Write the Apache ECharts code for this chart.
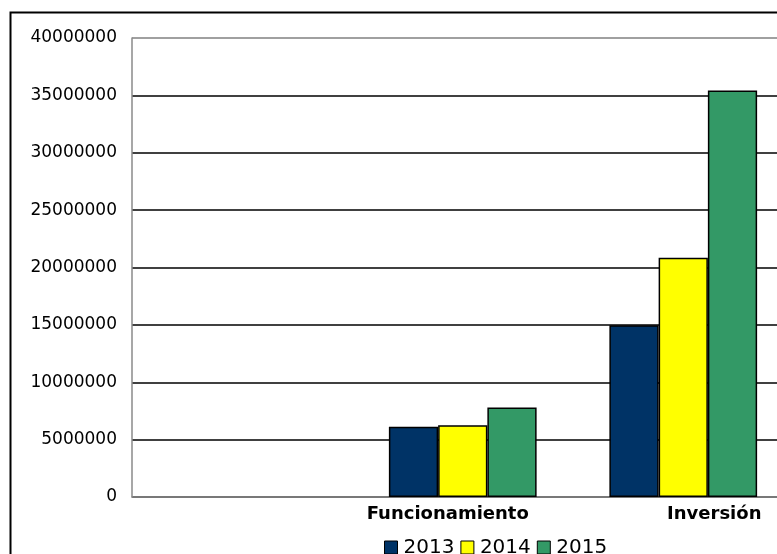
<!DOCTYPE html>
<html>
<head>
<meta charset="utf-8">
<script src="https://cdn.jsdelivr.net/npm/echarts@6/dist/echarts.min.js"></script>
<style>
  html, body { margin: 0; padding: 0; background: #fff; }
  #chart { width: 777px; height: 554px; }
</style>
</head>
<body>
<div id="chart"></div>
<script>
// Budget by type and year
const categories = ['', 'Funcionamiento', 'Inversión'];
const seriesNames = ['2013', '2014', '2015'];
const values2013 = [null, 6120000, 14960000];
const values2014 = [null, 6250000, 20850000];
const values2015 = [null, 7810000, 35430000];
const yTicks = [0, 5000000, 10000000, 15000000, 20000000, 25000000, 30000000, 35000000, 40000000];

const colors = ['#003366', '#FFFF00', '#339966'];
const font = 'DejaVu Sans, Verdana, sans-serif';

const chart = echarts.init(document.getElementById('chart'), null, { renderer: 'canvas' });

const seriesData = [values2013, values2014, values2015];

// Horizontal rules: black inside, grey at the top edge
const splitColors = yTicks.map((t, i) => (i === yTicks.length - 1 ? '#808080' : '#000000'));

chart.setOption({
  animation: false,
  backgroundColor: '#ffffff',
  graphic: [{
    type: 'rect',
    left: 8, top: 10,
    shape: { width: 820, height: 600 },
    style: { fill: 'none', stroke: '#000', lineWidth: 2 },
    z: 100
  }],
  legend: {
    left: 384, top: 537.5,
    padding: 0,
    itemWidth: 13, itemHeight: 13, itemGap: 6,
    icon: 'rect',
    textStyle: { fontFamily: font, fontSize: 20, color: '#000', padding: [0, 0, 0, 1] },
    itemStyle: { borderColor: '#000', borderWidth: 1 },
    data: seriesNames
  },
  // the plot runs a little past the right edge of the canvas
  grid: { left: 132, top: 38, right: -16.5, bottom: 57, containLabel: false, outerBoundsMode: 'none' },
  xAxis: {
    type: 'category',
    data: categories,
    axisLine: { lineStyle: { color: '#8a8a8a', width: 1.5 } },
    axisTick: { show: false },
    axisLabel: {
      interval: 0,
      margin: 8,
      fontFamily: font, fontSize: 18, fontWeight: 'bold', color: '#000',
      formatter: function (v) {
        if (v === 'Funcionamiento') return '{l|' + v + '}';
        if (v === 'Inversión') return '{r|' + v + '}';
        return v;
      },
      rich: {
        l: { fontFamily: font, fontSize: 18, fontWeight: 'bold', color: '#000', padding: [0, 30, 0, 0] },
        r: { fontFamily: font, fontSize: 18, fontWeight: 'bold', color: '#000', padding: [0, 0, 0, 62] }
      }
    }
  },
  yAxis: {
    type: 'value',
    min: 0, max: 40000000, interval: 5000000,
    axisLine: { show: true, lineStyle: { color: '#8a8a8a', width: 1.5 } },
    axisTick: { show: false },
    axisLabel: {
      margin: 15, fontFamily: font, fontSize: 17, color: '#000',
      formatter: function (v) { return String(v); }
    },
    splitLine: { show: true, lineStyle: { color: splitColors, width: 1.5 } }
  },
  series: seriesNames.map((name, i) => ({
    name: name,
    type: 'bar',
    data: seriesData[i],
    barGap: '0%',
    barCategoryGap: '33%',
    itemStyle: { color: colors[i], borderColor: '#000', borderWidth: 1.5 }
  }))
});
</script>
</body>
</html>
